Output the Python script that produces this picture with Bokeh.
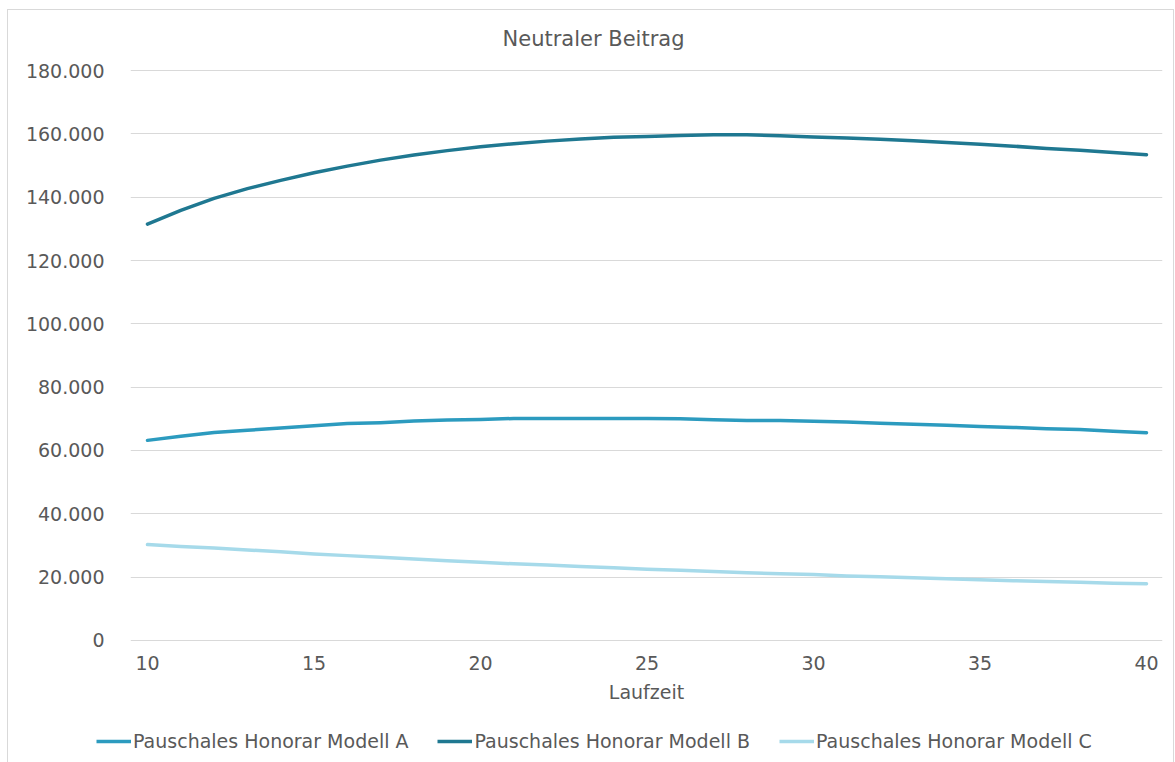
from bokeh.plotting import figure
from bokeh.layouts import column
from bokeh.models import Range1d, FixedTicker, Legend, LegendItem
from bokeh.embed import file_html
from bokeh.resources import INLINE

# Laufzeit in Jahren
laufzeit = list(range(10, 41))

# Neutraler Beitrag je Modell
modell_a = [63200, 64500, 65700, 66400, 67100, 67800, 68500, 68800, 69300, 69600,
            69800, 70100, 70100, 70100, 70100, 70100, 70000, 69700, 69500, 69500,
            69200, 69000, 68600, 68300, 68000, 67600, 67300, 66900, 66600, 66100,
            65600]
modell_b = [131500, 135800, 139600, 142700, 145300, 147700, 149800, 151700, 153300, 154700,
            155900, 156900, 157700, 158400, 158900, 159200, 159500, 159700, 159700, 159400,
            159000, 158700, 158300, 157800, 157300, 156700, 156100, 155400, 154800, 154100,
            153400]
modell_c = [30300, 29700, 29200, 28600, 28000, 27300, 26800, 26300, 25700, 25200,
            24700, 24200, 23800, 23400, 23000, 22500, 22200, 21800, 21400, 21100,
            20800, 20400, 20100, 19800, 19500, 19200, 18900, 18600, 18400, 18100,
            17900]

series_names = ["Pauschales Honorar Modell A", "Pauschales Honorar Modell B",
                "Pauschales Honorar Modell C"]
series_colors = ["#2C9BBF", "#1F7891", "#A6DAEA"]
series_values = [modell_a, modell_b, modell_c]

x_ticks = [10, 15, 20, 25, 30, 35, 40]
y_ticks = [0, 20000, 40000, 60000, 80000, 100000, 120000, 140000, 160000, 180000]
y_tick_labels = ["0", "20.000", "40.000", "60.000", "80.000", "100.000",
                 "120.000", "140.000", "160.000", "180.000"]

FONT = "DejaVu Sans"
TEXT = "#595959"
GRID = "#D9D9D9"

# main chart
p = figure(width=1165, height=700, output_backend="svg", toolbar_location=None,
           x_range=Range1d(9.49, 40.48), y_range=Range1d(-320, 180320),
           min_border_left=122, min_border_right=11, min_border_top=59,
           min_border_bottom=69,
           title="Neutraler Beitrag")
p.outline_line_color = None
p.background_fill_color = "white"
p.border_fill_color = "white"

p.title.align = "left"
p.title.offset = 372
p.title.text_font = FONT
p.title.text_font_size = "21px"
p.title.text_font_style = "normal"
p.title.text_color = TEXT
p.title.vertical_align = "top"
p.title.standoff = 33

p.xgrid.grid_line_color = None
p.ygrid.grid_line_color = GRID
p.ygrid.grid_line_width = 1
p.ygrid.ticker = FixedTicker(ticks=y_ticks)

p.xaxis.ticker = FixedTicker(ticks=x_ticks)
p.yaxis.ticker = FixedTicker(ticks=y_ticks)
p.yaxis.major_label_overrides = dict(zip(y_ticks, y_tick_labels))

for ax in (p.xaxis, p.yaxis):
    ax.axis_line_color = None
    ax.major_tick_line_color = None
    ax.minor_tick_line_color = None
    ax.major_tick_in = 0
    ax.major_tick_out = 0
    ax.major_label_text_font = FONT
    ax.major_label_text_font_size = "19px"
    ax.major_label_text_color = TEXT

p.yaxis.major_label_standoff = 26
p.xaxis.major_label_standoff = 14
p.xaxis.axis_label = "Laufzeit"
p.xaxis.axis_label_text_font = FONT
p.xaxis.axis_label_text_font_size = "19px"
p.xaxis.axis_label_text_font_style = "normal"
p.xaxis.axis_label_text_color = TEXT
p.xaxis.axis_label_standoff = 8

for vals, col in zip(series_values, series_colors):
    p.line(laufzeit, vals, line_color=col, line_width=3.5, line_cap="round",
           line_join="round")

# legend strip underneath the chart (own frame, not aligned with the chart's)
lg = figure(width=1165, height=52, output_backend="svg", toolbar_location=None,
            x_range=Range1d(0, 1), y_range=Range1d(0, 1),
            min_border=0, min_border_left=0, min_border_right=0,
            min_border_top=0, min_border_bottom=0)
lg.frame_align = False
lg.axis.visible = False
lg.grid.visible = False
lg.outline_line_color = None
lg.background_fill_color = "white"
lg.border_fill_color = "white"

items = []
for name, vals, col in zip(series_names, series_values, series_colors):
    r = lg.line(laufzeit, vals, line_color=col, line_width=3.5, visible=False)
    items.append(LegendItem(label=name, renderers=[r]))

legend = Legend(items=items, orientation="horizontal", location=(88, 10),
                glyph_width=35, glyph_height=22, label_height=22,
                label_standoff=2, spacing=29, padding=0, margin=0,
                border_line_color=None, background_fill_alpha=0,
                inactive_fill_alpha=0, click_policy="none",
                label_text_font=FONT, label_text_font_size="19px",
                label_text_color=TEXT)
lg.add_layout(legend, "center")

layout = column(p, lg, spacing=0,
                styles={"margin-left": "7px", "margin-top": "9px",
                        "border": "1px solid #D9D9D9"})

open("out.html", "w").write(file_html(layout, INLINE))
